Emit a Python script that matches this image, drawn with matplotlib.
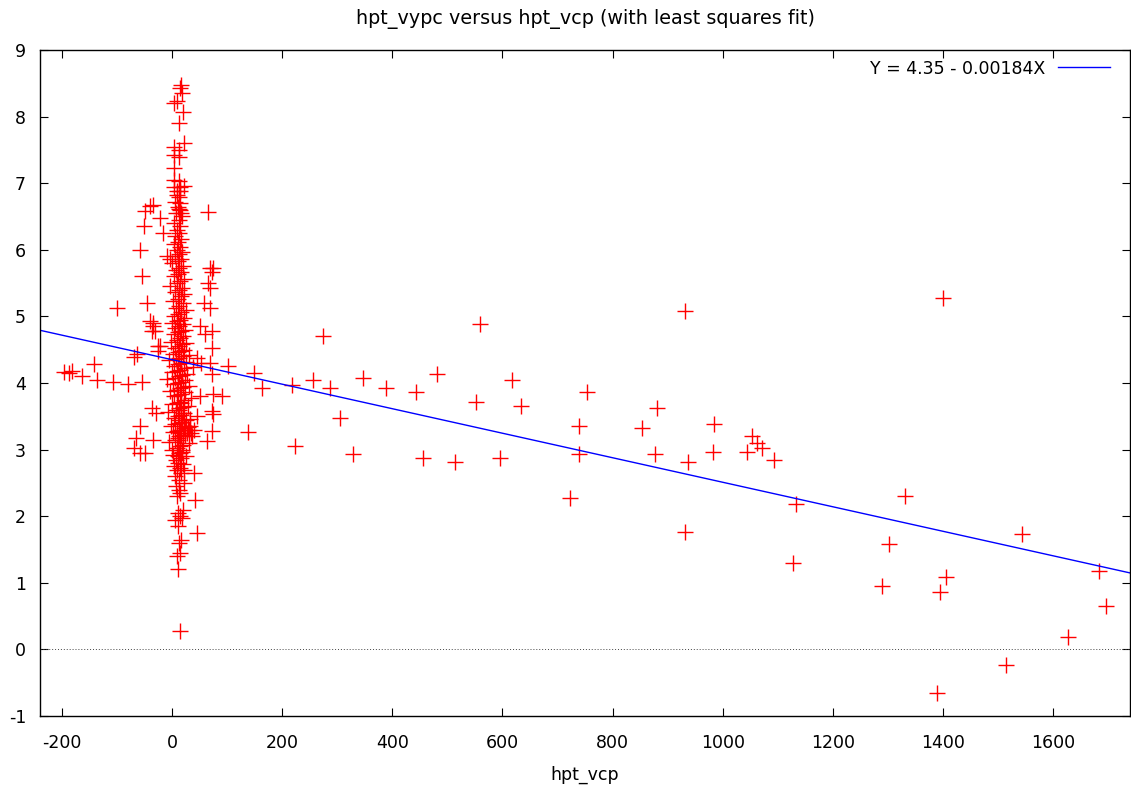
import matplotlib
matplotlib.use("Agg")
import matplotlib.pyplot as plt
import numpy as np

# ---- data ----
# outlying points (hpt_vcp, hpt_vypc)
out_x = [-196, -188, -182, -164, -142, -136, -108, -81, -55, -100, -70, -55, -58, -51,
         -40, -34, -49, -46, -40, -34, -37, -58, -65, -70, -59, -49, -34, -37, -30,
         -22, -16, -10, -4, -64, -34, -31, -25, -22, -25,
         65, 69, 75, 73, 66, 68, 57, 69, 51, 60, 73, 73, 53,
         102, 149, 164, 217, 138, 223, 72, 75, 90, 72, 75, 72, 63, 42, 46, 39, 45, 51, 69, 45,
         256, 274, 287, 305, 328, 347, 388, 443, 456, 481, 514, 552, 559, 595, 617, 633,
         722, 739, 740, 753, 853, 877, 880, 931, 931, 938, 982, 985, 1044, 1053, 1062,
         1071, 1093, 1134, 1127, 1290, 1303, 1332, 1394, 1405, 1401, 1390, 1515, 1543,
         1627, 1684, 1697, 15]
out_y = [4.16, 4.15, 4.18, 4.10, 4.28, 4.05, 4.01, 3.98, 4.01, 5.13, 4.39, 5.60, 6.00, 6.35,
         6.66, 6.67, 6.58, 5.20, 4.93, 4.85, 4.78, 3.35, 3.18, 3.03, 2.95, 2.95, 3.15, 3.63, 3.55,
         6.48, 6.25, 5.90, 5.86, 4.43, 4.90, 4.78, 4.55, 4.56, 4.48,
         6.57, 5.73, 5.72, 5.66, 5.50, 5.43, 5.20, 5.13, 4.85, 4.73, 4.78, 4.53, 4.30,
         4.26, 4.15, 3.92, 3.97, 3.26, 3.05, 4.13, 3.84, 3.80, 3.58, 3.53, 3.28, 3.13, 2.25, 1.75, 2.65, 3.50, 3.80, 4.30, 4.38,
         4.05, 4.70, 3.92, 3.48, 2.93, 4.07, 3.92, 3.86, 2.88, 4.13, 2.82, 3.71, 4.88, 2.88, 4.05, 3.65,
         2.27, 3.36, 2.93, 3.87, 3.32, 2.94, 3.63, 5.08, 1.76, 2.82, 2.96, 3.39, 2.97, 3.20, 3.10,
         3.03, 2.85, 2.19, 1.29, 0.95, 1.58, 2.31, 0.86, 1.08, 5.28, -0.65, -0.24, 1.73,
         0.18, 1.17, 0.65, 0.28]

# dense column of points near hpt_vcp = 0
col_x = [10, 8, 14, 12, 16, 10, 6, 14, 18, 11, 20, 9, 15, 13, 7, 22, 12, 5, 17, 9, 14, 3, 20, 11, 7, 16, 25, 2, 12, 18,
         0, 8, 14, 20, 30, -5, 5, 11, 17, 24, 35, 2, 9, 15, 21, 40, 28, -2, 6, 12, 18, 26, 32, 3, 10, 16, 22, -8,
         7, 13, 19, 28, 0, 9, 15, 21, 35, 4, 11, 17, 24, -3, 8, 14, 20, 30, 2,
         10, 16, 23, -10, 6, 12, 18, 27, 0, 9, 15, 21, 38, 4, 11, 17, 25, -5, 7, 13, 19, 30, 2, 10, 16, 22,
         5, 12, 18, 26, -2, 8, 14, 20, 3, 11, 17, 24, 6, 13, 19, 0, 9, 15, 21,
         4, 11, 17, 25, 7, 13, 19, 2, 10, 16, 22, 6, 12, 18, -4, 9, 15, 21, 3, 11, 17, 7, 13, 19, 0, 10, 16, 5, 12, 18,
         8, 14, 3, 11, 17, 6, 13, 9, 15, 4, 12, 18, 7, 14, 10, 5, 13, 8, 15,
         16, 15, 18, 8, 4, 19, 12, 21, 4, 12, 4, 12, 4, 4, 12, 21, 4, 14, 8, 15, 12, 16,
         13, 15, 11, 17, 20, 24, 10, 14, 18, 12, 16, 9, 13, 19, 27, 31, 36, 33, 22]
col_y = [1.20, 1.40, 1.45, 1.60, 1.65, 1.85, 1.95, 2.00, 1.98, 2.05, 2.10, 2.30, 2.35, 2.40, 2.45, 2.50, 2.55, 2.60, 2.65, 2.70,
         2.72, 2.75, 2.78, 2.80, 2.85, 2.88, 2.90, 2.92, 2.95, 2.97,
         3.00, 3.02, 3.05, 3.07, 3.10, 3.12, 3.15, 3.17, 3.20, 3.22, 3.25, 3.27, 3.28, 3.30, 3.32, 3.30, 3.34, 3.36, 3.38, 3.40,
         3.42, 3.44, 3.46, 3.48, 3.50, 3.52, 3.55, 3.57, 3.60, 3.62, 3.64, 3.66, 3.68, 3.70, 3.72, 3.75, 3.78, 3.80, 3.82, 3.84,
         3.86, 3.88, 3.90, 3.92, 3.94, 3.96, 3.98,
         4.00, 4.02, 4.04, 4.06, 4.08, 4.10, 4.12, 4.14, 4.16, 4.18, 4.20, 4.22, 4.24, 4.26, 4.28, 4.30, 4.32, 4.34, 4.36, 4.38,
         4.40, 4.42, 4.44, 4.46, 4.48, 4.50, 4.53, 4.56, 4.58, 4.60, 4.62, 4.65, 4.68, 4.70, 4.73, 4.76, 4.78, 4.80, 4.83, 4.86,
         4.88, 4.90, 4.93, 4.95, 4.98,
         5.00, 5.03, 5.06, 5.10, 5.13, 5.16, 5.20, 5.23, 5.26, 5.30, 5.33, 5.36, 5.40, 5.43, 5.46, 5.50, 5.53, 5.56, 5.60, 5.63,
         5.66, 5.70, 5.73, 5.76, 5.80, 5.83, 5.86, 5.90, 5.93, 5.96,
         6.00, 6.04, 6.08, 6.12, 6.16, 6.20, 6.25, 6.30, 6.35, 6.40, 6.45, 6.50, 6.55, 6.60, 6.65, 6.72, 6.80, 6.88, 6.95,
         8.48, 8.43, 8.36, 8.23, 8.20, 8.07, 7.90, 7.60, 7.55, 7.50, 7.42, 7.40, 7.23, 7.05, 7.03, 6.96, 6.94, 6.89, 6.82,
         6.70, 6.62, 6.55,
         3.20, 3.25, 3.15, 3.30, 3.22, 3.35, 2.90, 2.95, 3.00, 3.60, 3.70, 3.90, 3.45, 3.55, 3.25, 3.30, 3.20, 3.35, 2.70]

intercept = 4.35
slope = -0.00184
fit_label = "Y = 4.35 - 0.00184X"
title = "hpt_vypc versus hpt_vcp (with least squares fit)"
xlabel = "hpt_vcp"
xticks = [-200, 0, 200, 400, 600, 800, 1000, 1200, 1400, 1600]
yticks = [-1, 0, 1, 2, 3, 4, 5, 6, 7, 8, 9]
xlim = (-240, 1740)
ylim = (-1, 9)

# ---- drawing ----
plt.rcParams["axes.unicode_minus"] = False
W, H = 1131, 787
fig = plt.figure(figsize=(W / 100, H / 100), dpi=100)
ax = fig.add_axes([40 / W, (H - 716) / H, (1130 - 40) / W, (716 - 50) / H])

xs = list(out_x) + list(col_x)
ys = list(out_y) + list(col_y)
ax.plot(xs, ys, linestyle="none", marker="+", color="#ff0000", markersize=11, markeredgewidth=1.0)

lx = np.array(xlim)
ax.plot(lx, intercept + slope * lx, color="#0000ff", linewidth=1.0, label=fit_label)
ax.axhline(0, color="#444444", linestyle=(0, (1, 2)), linewidth=0.7)

ax.set_xlim(*xlim)
ax.set_ylim(*ylim)
ax.set_xticks(xticks)
ax.set_yticks(yticks)
ax.tick_params(direction="in", top=True, right=True, length=6, width=0.8, labelsize=12.5)
ax.tick_params(axis="x", pad=13)
ax.tick_params(axis="y", pad=10)
for s in ax.spines.values():
    s.set_linewidth(1.0)

ax.set_title(title, fontsize=13.8, pad=19)
ax.set_xlabel(xlabel, fontsize=12.5, labelpad=10)

leg = ax.legend(loc="upper right", bbox_to_anchor=(0.9903, 1.0), frameon=False, fontsize=12.5,
                handlelength=3.0, borderaxespad=0.15, handletextpad=0.7, markerfirst=False)

fig.savefig("out.png", dpi=100)
